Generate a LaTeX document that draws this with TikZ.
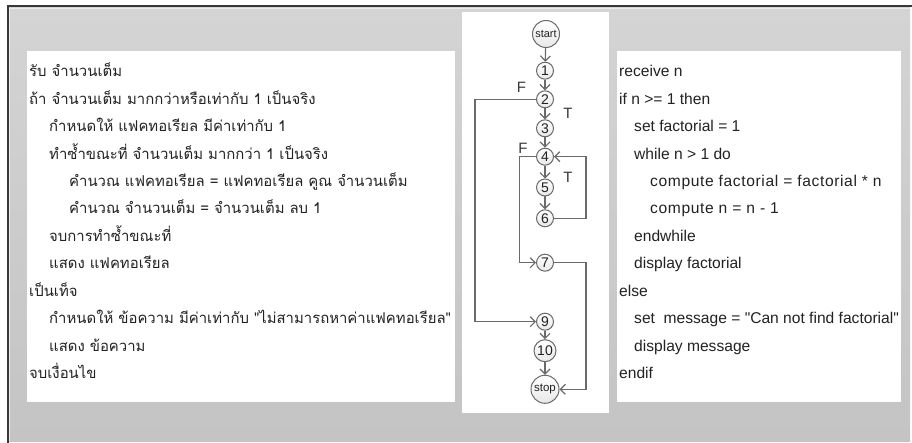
\documentclass[tikz,border=0pt]{standalone}
\usepackage{fontspec}
\setmainfont{Liberation Sans}[Ligatures=TeXOff]
\newfontfamily\thaifont[Script=Thai,Ligatures=TeXOff]{Loma}
\usetikzlibrary{arrows.meta}
\definecolor{bgtop}{HTML}{D4D4D4}
\definecolor{bgbot}{HTML}{C4C4C4}
\definecolor{edgec}{HTML}{6A6A6A}
\definecolor{txt}{HTML}{222222}
\begin{document}
\begin{tikzpicture}[x=1pt,y=-1pt,
  ln/.style={anchor=base west, inner sep=0pt, text=txt, font=\fontsize{15.6}{17}\selectfont},
  lnw/.style={ln, font=\fontsize{15.6}{17}\selectfont\addfontfeature{LetterSpace=4}},
  th/.style={anchor=base west, inner sep=0pt, text=txt, font=\thaifont\fontsize{14.9}{17}\selectfont},
  circ/.style={circle, draw=edgec, line width=1pt, top color=white, bottom color=gray!18, inner sep=0pt, minimum size=17pt, text=txt, font=\fontsize{14}{14}\selectfont},
  arr/.style={draw=edgec, line width=1.2pt, -{Straight Barb[length=5pt,width=10pt]}},
  lbl/.style={inner sep=0pt, text=txt!90, font=\fontsize{15}{15}\selectfont}]
\useasboundingbox (0,0) rectangle (912,443);
\fill[white] (0,0) rectangle (912,443);
\shade[top color=bgtop, bottom color=bgbot] (8,7) rectangle (910,441);
\draw[white!85!gray, line width=1pt] (9.5,441) -- (9.5,8.5) -- (910,8.5);
\draw[black!78, line width=2pt] (7.5,443) -- (7.5,6) -- (912,6);
% panels
\fill[white] (27,51) rectangle (455,402);
\fill[white] (462,12) rectangle (609,413);
\fill[white] (617,51) rectangle (901,402);
% Thai pseudocode
\node[th] (t1) at (29,77) {รับ จำนวนเต็ม};
\node[th] (t2) at (29,104.4) {ถ้า จำนวนเต็ม มากกว่าหรือเท่ากับ 1 เป็นจริง};
\node[th] (t3) at (49,131.8) {กำหนดให้ แฟคทอเรียล มีค่าเท่ากับ 1};
\node[th] (t4) at (49,159.2) {ทำซ้ำขณะที่ จำนวนเต็ม มากกว่า 1 เป็นจริง};
\node[th] (t5) at (69,186.6) {คำนวณ แฟคทอเรียล = แฟคทอเรียล คูณ จำนวนเต็ม};
\node[th] (t6) at (69,214) {คำนวณ จำนวนเต็ม = จำนวนเต็ม ลบ 1};
\node[th] (t7) at (49,241.4) {จบการทำซ้ำขณะที่};
\node[th] (t8) at (49,268.8) {แสดง แฟคทอเรียล};
\node[th] (t9) at (29,296.2) {เป็นเท็จ};
\node[th] (t10) at (49,323.6) {กำหนดให้ ข้อความ มีค่าเท่ากับ "ไม่สามารถหาค่าแฟคทอเรียล"};
\node[th] (t11) at (49,351) {แสดง ข้อความ};
\node[th] (t12) at (29,378.4) {จบเงื่อนไข};
% English pseudocode
\node[ln] (e1) at (619,77) {receive n};
\node[ln] (e2) at (619,104.4) {if n >= 1 then};
\node[ln] (e3) at (634,131.8) {set factorial = 1};
\node[ln] (e4) at (634,159.2) {while n > 1 do};
\node[lnw] (e5) at (650,186.6) {compute factorial = factorial * n};
\node[lnw] (e6) at (650,214) {compute n = n - 1};
\node[ln] (e7) at (634,241.4) {endwhile};
\node[ln] (e8) at (634,268.8) {display factorial};
\node[ln] (e9) at (619,296.2) {else};
\node[ln] (e10) at (634,323.6) {set\ \ message = "Can not find factorial"};
\node[ln] (e11) at (634,351) {display message};
\node[ln] (e12) at (619,378.4) {endif};
% flow graph
\node[circ, minimum size=27pt, font=\fontsize{11}{11}\selectfont] (start) at (546,34) {start};
\node[circ] (n1) at (545,70.7) {1};
\node[circ] (n2) at (545,99.3) {2};
\node[circ] (n3) at (545,128.3) {3};
\node[circ] (n4) at (545,156.7) {4};
\node[circ] (n5) at (545,187.5) {5};
\node[circ] (n6) at (545,218.3) {6};
\node[circ] (n7) at (545,262.7) {7};
\node[circ] (n9) at (545,321.7) {9};
\node[circ, minimum size=22pt] (n10) at (545,350.7) {10};
\node[circ, minimum size=28pt, font=\fontsize{11.5}{11.5}\selectfont] (stop) at (545,389.3) {stop};
\draw[arr] (start) -- (n1);
\draw[arr] (n1) -- (n2);
\draw[arr] (n2) -- (n3);
\draw[arr] (n3) -- (n4);
\draw[arr] (n4) -- (n5);
\draw[arr] (n5) -- (n6);
\draw[arr] (n9) -- (n10);
\draw[arr] (n10) -- (stop);
\draw[arr] (n2.west) -- ++(-61,0) |- (n9.west);
\draw[arr] (n4.west) -- ++(-16.5,0) |- (n7.west);
\draw[arr] (n6.east) -- ++(32,0) |- (n4.east);
\draw[arr] (n7.east) -- ++(32,0) |- (stop.east);
\node[lbl] (f1) at (521.5,87.5) {F};
\node[lbl] (t1l) at (568,113) {T};
\node[lbl] (f2) at (523,148) {F};
\node[lbl] (t2l) at (568,177) {T};
\end{tikzpicture}
\end{document}
